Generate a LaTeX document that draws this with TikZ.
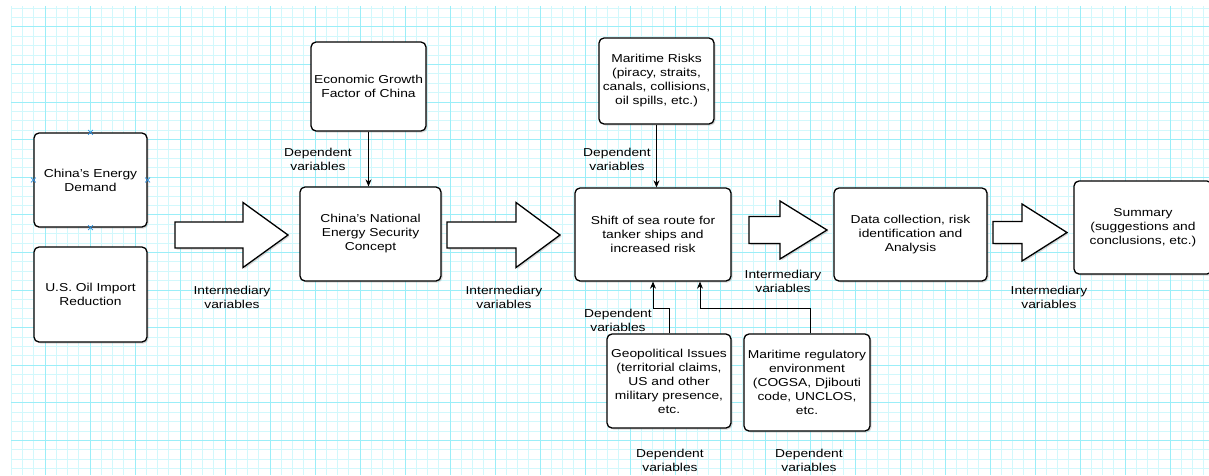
\documentclass[tikz,border=0pt]{standalone}
\usepackage{fontspec}
\setmainfont{Liberation Sans}[FakeStretch=1.2]
\usepackage{tikz}
\usetikzlibrary{arrows.meta,shadows,shapes.misc}
\definecolor{gridminor}{RGB}{210,248,252}
\definecolor{gridmajor}{RGB}{155,238,248}
\definecolor{markblue}{RGB}{40,140,220}
\tikzset{
  box/.style={draw=black, fill=white, line width=1.3pt, rounded corners=5pt, align=center, inner sep=3pt, font=\fontsize{11.5}{14}\selectfont, drop shadow={shadow xshift=1.5pt, shadow yshift=-1.5pt, opacity=0.3}},
  lbl/.style={align=center, inner sep=1pt, font=\fontsize{11.5}{14}\selectfont},
  arrow/.style={-{Stealth[length=7pt,width=6pt]}, line width=0.8pt},
  bigarrow/.style={draw=black, fill=white, line width=1.3pt, line join=miter, drop shadow={shadow xshift=1.5pt, shadow yshift=-1.5pt, opacity=0.3}},
  minorline/.style={draw=gridminor, line width=0.6pt},
  majorline/.style={draw=gridmajor, line width=0.8pt},
  xmark/.style={cross out, draw=markblue, minimum size=4pt, inner sep=0pt, line width=0.8pt}
}
% block arrow: x start, x head base, x tip, y centre, half shaft, half head
\newcommand{\blockarrow}[6]{\draw[bigarrow] (#1,#4-#5) -- (#2,#4-#5) -- (#2,#4-#6) -- (#3,#4) -- (#2,#4+#6) -- (#2,#4+#5) -- (#1,#4+#5) -- cycle;}

\begin{document}
\begin{tikzpicture}[x=1pt, y=-1pt]
\useasboundingbox[fill=white] (0,0) rectangle (1209,475);
% grid
\begin{scope}
\clip (11,6) rectangle (1209,475);
\foreach \i in {1,...,107} \draw[minorline] (\i*11.25,6) -- (\i*11.25,475);
\foreach \j in {0,...,49} \draw[minorline] (11,7.9+\j*9.4) -- (1209,7.9+\j*9.4);
\foreach \i in {1,...,26} \draw[majorline] (\i*45,6) -- (\i*45,475);
\foreach \j in {0,...,11} \draw[majorline] (11,26.7+\j*37.6) -- (1209,26.7+\j*37.6);
\end{scope}

% boxes
\node[box, minimum width=113pt, minimum height=94pt] (demand) at (90.5,180) {China's Energy\\Demand};
\node[box, minimum width=113pt, minimum height=95pt] (usoil) at (90.5,294.5) {U.S. Oil Import\\Reduction};
\node[box, minimum width=113pt, minimum height=89pt] (econ) at (368.5,86.5) {Economic Growth\\Factor of China};
\node[box, minimum width=141pt, minimum height=94pt] (natsec) at (370.5,234) {China's National\\Energy Security\\Concept};
\node[box, minimum width=115pt, minimum height=86pt] (marrisk) at (656.5,81) {Maritime Risks\\(piracy, straits,\\canals, collisions,\\oil spills, etc.)};
\node[box, minimum width=156pt, minimum height=93pt] (shift) at (653,234.5) {Shift of sea route for\\tanker ships and\\increased risk};
\node[box, minimum width=124pt, minimum height=94pt] (geo) at (669,381) {Geopolitical Issues\\(territorial claims,\\US and other\\military presence,\\etc.};
\node[box, minimum width=126pt, minimum height=97pt] (marreg) at (807,382.5) {Maritime regulatory\\environment\\(COGSA, Djibouti\\code, UNCLOS,\\etc.};
\node[box, minimum width=153pt, minimum height=93pt] (data) at (910.5,234.5) {Data collection, risk\\identification and\\Analysis};
\node[box, minimum width=138pt, minimum height=93pt] (summary) at (1143,227.5) {Summary\\(suggestions and\\conclusions, etc.)};
\foreach \a in {north,south,east,west} \node[xmark] at (demand.\a) {};

% block arrows
\blockarrow{175}{243}{288}{235}{13}{32.5}
\blockarrow{447}{516}{560}{235}{13}{32.5}
\blockarrow{749}{780}{827}{230}{13.5}{29}
\blockarrow{993}{1022}{1067}{232.5}{11}{28.5}

% connectors
\draw[arrow] (econ.south) -- (econ.south |- natsec.north);
\draw[arrow] (marrisk.south) -- (marrisk.south |- shift.north);
\draw[arrow] (geo.north) -- ++(0,-25) -| (shift.south);
\draw[arrow] ([xshift=3pt]marreg.north) -- ++(0,-25) -| ([xshift=47pt]shift.south);

% labels
\node[lbl] (int1) at (232,297) {Intermediary\\variables};
\node[lbl] (int2) at (504,297) {Intermediary\\variables};
\node[lbl] (int3) at (783,281) {Intermediary\\variables};
\node[lbl] (int4) at (1049,297) {Intermediary\\variables};
\node[lbl] (dep1) at (318,159) {Dependent\\variables};
\node[lbl] (dep2) at (617,159) {Dependent\\variables};
\node[lbl] (dep3) at (618,320) {Dependent\\variables};
\node[lbl] (dep4) at (670,460) {Dependent\\variables};
\node[lbl] (dep5) at (809,460) {Dependent\\variables};
\end{tikzpicture}
\end{document}
